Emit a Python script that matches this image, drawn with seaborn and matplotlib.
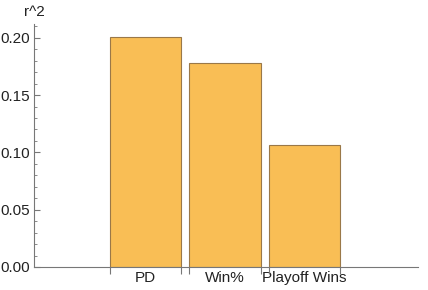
import matplotlib
matplotlib.use("Agg")
import matplotlib.pyplot as plt
import seaborn as sns
import pandas as pd
import numpy as np
from matplotlib.ticker import MultipleLocator, FixedLocator, NullFormatter

categories = ["PD", "Win%", "Playoff Wins"]
r2_values = [0.201, 0.178, 0.1065]

sns.set_theme(style="white")
plt.rcParams["font.family"] = ["Liberation Sans", "DejaVu Sans"]

df = pd.DataFrame({"metric": categories, "r2": r2_values})

fig = plt.figure(figsize=(4.28, 2.90), dpi=100)
ax = fig.add_axes([34/428, (290-267)/290, (418-34)/428, (267-24)/290])

bar_w = 0.9
sns.barplot(data=df, x="metric", y="r2", order=categories, color="#F9BE55",
            saturation=1, width=bar_w, edgecolor="#9A7848", linewidth=0.8, ax=ax)

ax.set_xlim(-1.40, 3.43)
ax.set_ylim(0, 0.212)
ax.set_xlabel("")
ax.set_ylabel("")

for s in ["top", "right"]:
    ax.spines[s].set_visible(False)
for s in ["left", "bottom"]:
    ax.spines[s].set_color("#777777")
    ax.spines[s].set_linewidth(0.8)

# y ticks
ax.yaxis.set_major_locator(MultipleLocator(0.05))
ax.yaxis.set_minor_locator(MultipleLocator(0.01))
ax.yaxis.set_major_formatter(matplotlib.ticker.FormatStrFormatter("%.2f"))
ax.tick_params(axis="y", which="major", direction="in", length=4, width=0.8,
               color="#777777", labelsize=11, labelcolor="#222222", pad=3, left=True)
ax.tick_params(axis="y", which="minor", direction="in", length=2, width=0.6,
               color="#777777", left=True)

# x ticks: labels at bar centers, tick marks at bar edges
pos = np.arange(len(categories))
ax.set_xticks(pos)
ax.set_xticklabels(categories)
edges = np.concatenate([pos - bar_w/2, pos + bar_w/2])
ax.xaxis.set_minor_locator(FixedLocator(edges))
ax.xaxis.set_minor_formatter(NullFormatter())
ax.tick_params(axis="x", which="major", length=0, labelsize=11, labelcolor="#222222", pad=3)
ax.tick_params(axis="x", which="minor", direction="out", length=5, width=0.8,
               color="#777777", bottom=True)

fig.text(34/428, 1 - 12/290, "r^2", ha="center", va="center", fontsize=11, color="#222222")

fig.savefig("out.png", dpi=100)
